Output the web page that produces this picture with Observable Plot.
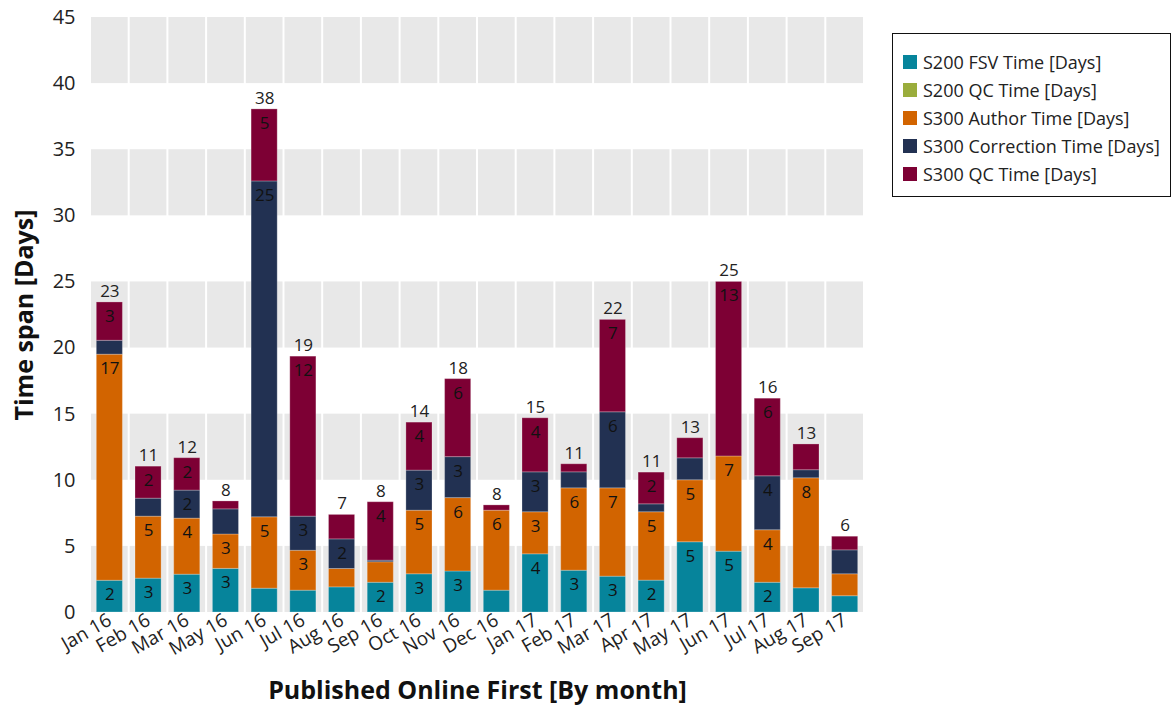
<!DOCTYPE html>
<html>
<head>
<meta charset="utf-8">
<script src="https://cdn.jsdelivr.net/npm/d3@7"></script>
<script src="https://cdn.jsdelivr.net/npm/@observablehq/plot@0.6"></script>
<style>
  html, body { margin: 0; padding: 0; background: #fff; }
  #wrap { position: relative; width: 1173px; height: 711px; font-family: "Open Sans", sans-serif; }
  #legend { position: absolute; left: 892px; top: 33px; width: 279px; height: 164px; border: 1px solid #111; box-sizing: border-box; background: #fff; }
  .item { position: absolute; left: 10px; height: 22px; display: flex; align-items: center; font-size: 18px; color: #222; white-space: nowrap; }
  .sw { width: 14px; height: 14px; margin-right: 6px; flex: none; }
</style>
</head>
<body>
<div id="wrap"><div id="chart"></div><div id="legend"></div></div>
<script>
const months = ["Jan 16","Feb 16","Mar 16","May 16","Jun 16","Jul 16","Aug 16","Sep 16","Oct 16","Nov 16","Dec 16","Jan 17","Feb 17","Mar 17","Apr 17","May 17","Jun 17","Jul 17","Aug 17","Sep 17"];
const seriesNames = ["S200 FSV Time [Days]","S200 QC Time [Days]","S300 Author Time [Days]","S300 Correction Time [Days]","S300 QC Time [Days]"];
const seriesColors = ["#06849b","#9aad3c","#d26400","#223152","#7d0034"];
const fsvTime =        [2.4, 2.56, 2.86, 3.3, 1.8, 1.65, 1.9, 2.25, 2.89, 3.1, 1.65, 4.4, 3.16, 2.71, 2.41, 5.31, 4.6, 2.25, 1.83, 1.23];
const s200QcTime =     [0, 0, 0, 0, 0, 0, 0, 0, 0, 0, 0, 0, 0, 0, 0, 0, 0, 0, 0, 0];
const authorTime =     [17.1, 4.69, 4.24, 2.6, 5.4, 3.02, 1.39, 1.55, 4.81, 5.55, 6.05, 3.18, 6.23, 6.68, 5.17, 4.69, 7.2, 3.97, 8.32, 1.66];
const correctionTime = [1.05, 1.36, 2.12, 1.9, 25.4, 2.58, 2.24, 0.12, 3.03, 3.1, 0, 3.02, 1.21, 5.75, 0.6, 1.66, 0, 4.08, 0.61, 1.81];
const s300QcTime =     [2.9, 2.42, 2.45, 0.6, 5.45, 12.1, 1.85, 4.42, 3.63, 5.9, 0.4, 4.09, 0.61, 6.99, 2.4, 1.52, 13.2, 5.87, 1.95, 1.03];
const yTicks = [0,5,10,15,20,25,30,35,40,45];
const bandRanges = [[0,5],[10,15],[20,25],[30,35],[40,45]];

const seriesValues = [fsvTime, s200QcTime, authorTime, correctionTime, s300QcTime];
const data = [];
months.forEach((m, i) => {
  seriesNames.forEach((s, j) => data.push({month: m, series: s, value: seriesValues[j][i]}));
});
const totals = months.map((m, i) => ({month: m, total: d3.sum(seriesValues, v => v[i])}));
const bands = [];
months.forEach(m => bandRanges.forEach(([lo, hi]) => bands.push({month: m, lo, hi})));

const chart = Plot.plot({
  width: 1173, height: 711,
  marginLeft: 90, marginRight: 309, marginTop: 17, marginBottom: 99,
  style: {fontFamily: "Open Sans, sans-serif", background: "#fff", color: "#222"},
  x: {domain: months, padding: 0, round: false},
  y: {domain: [0, 45]},
  color: {domain: seriesNames, range: seriesColors},
  marks: [
    Plot.barY(bands, {x: "month", y1: "lo", y2: "hi", fill: "#e8e8e8", insetLeft: 1, insetRight: 1}),
    Plot.barY(data, {x: "month", y: "value", fill: "series", z: "series", insetLeft: 6.3, insetRight: 6.3, stroke: "#fff", strokeOpacity: 0.25, strokeWidth: 1}),
    Plot.text(data, Plot.stackY2({x: "month", y: "value", z: "series",
      text: d => d.value >= 2 ? String(Math.round(d.value)) : "",
      dy: 14, fontSize: 17, fill: "#111"})),
    Plot.text(totals, {x: "month", y: "total", text: d => String(Math.round(d.total)), dy: -11, fontSize: 17, fill: "#222"}),
    Plot.axisY({ticks: yTicks, tickSize: 0, tickPadding: 15, fontSize: 20, label: null}),
    Plot.axisX({tickSize: 0, tickPadding: 6, tickRotate: -30, fontSize: 19, label: null}),
    Plot.text(["Time span [Days]"], {frameAnchor: "left", textAnchor: "middle", dx: -66, rotate: -90, fontSize: 25, fontWeight: "bold", fill: "#111"}),
    Plot.text(["Published Online First [By month]"], {frameAnchor: "bottom", dy: 86, fontSize: 25, fontWeight: "bold", fill: "#111"})
  ]
});
document.getElementById("chart").appendChild(chart);

const legend = document.getElementById("legend");
seriesNames.forEach((s, j) => {
  const it = document.createElement("div");
  it.className = "item";
  it.style.top = (17 + j * 28) + "px";
  const sw = document.createElement("span");
  sw.className = "sw";
  sw.style.background = seriesColors[j];
  it.appendChild(sw);
  it.appendChild(document.createTextNode(s));
  legend.appendChild(it);
});
</script>
</body>
</html>
